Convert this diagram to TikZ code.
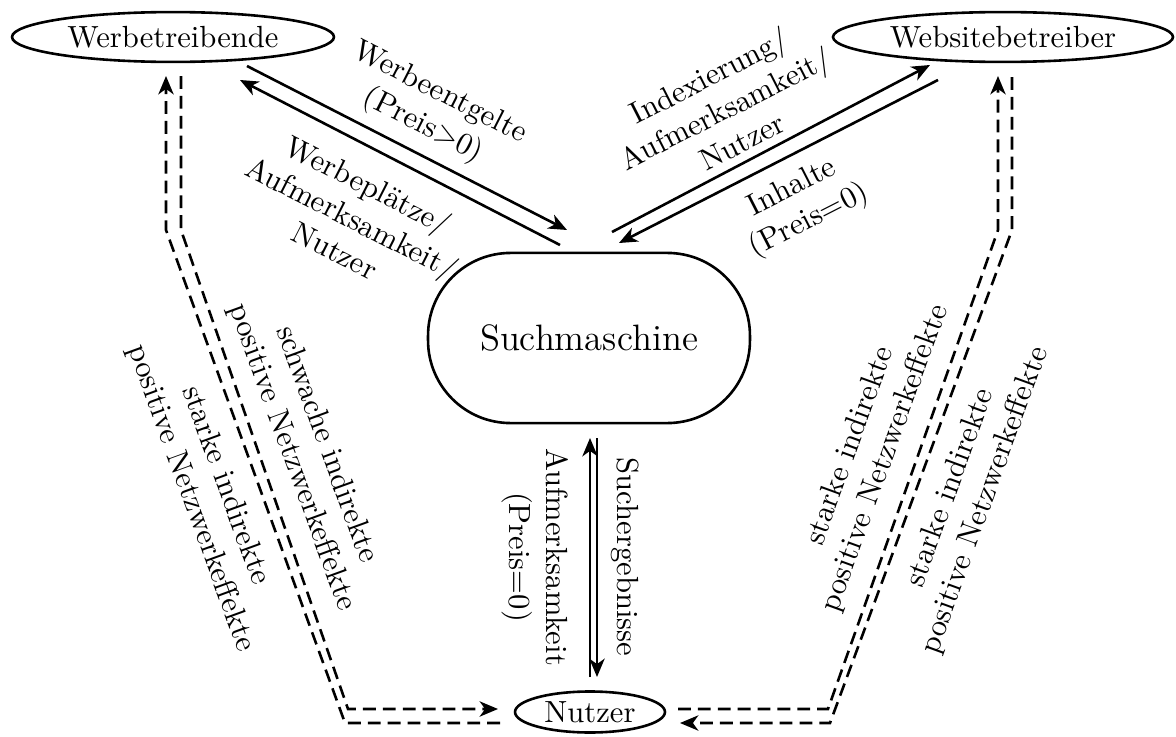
\documentclass[tikz,border=0pt]{standalone}
\usepackage{fontspec}
\usetikzlibrary{arrows.meta,shapes.geometric}

\begin{document}
\begin{tikzpicture}[x=0.3268pt,y=-0.3268pt,
  party/.style={draw, ellipse, line width=0.85pt, inner sep=0pt},
  engine/.style={draw, rectangle, rounded corners=27pt, line width=0.85pt,
    minimum width=105.2pt, minimum height=55.6pt, font=\large},
  flow/.style={line width=0.85pt, -{Stealth[length=6pt,width=5pt,inset=1.8pt]}},
  effect/.style={line width=0.85pt, dash pattern=on 4.2pt off 2.3pt},
  effectarrow/.style={effect, -{Stealth[length=6pt,width=5pt,inset=1.8pt]}},
  lbl/.style={align=center, inner sep=0pt}
]
\useasboundingbox (0,0) rectangle (1176,737);

% market sides and the platform
\node[party, minimum width=105.2pt, minimum height=16.3pt] (wb) at (173,37) {Werbetreibende};
\node[party, minimum width=111.1pt, minimum height=16.3pt] (ws) at (1003,37) {Websitebetreiber};
\node[engine] (sm) at (589,338) {Suchmaschine};
\node[party, minimum width=49pt, minimum height=13.4pt] (nu) at (590,712) {Nutzer};

% exchange with the advertisers
\draw[flow] ([shift={(74,29)}]wb.center) -- ([shift={(-22,-108)}]sm.center);
\draw[flow] ([shift={(-29,-93)}]sm.center) -- ([shift={(67,43)}]wb.center);

% exchange with the website operators
\draw[flow] ([shift={(23,-106)}]sm.center) -- ([shift={(-73,28)}]ws.center);
\draw[flow] ([shift={(-65,43)}]ws.center) -- ([shift={(30,-95)}]sm.center);

% exchange with the users
\draw[flow] ([shift={(0,-35)}]nu.center) -- ([shift={(1,100)}]sm.center);
\draw[flow] ([shift={(8,100)}]sm.center) -- ([shift={(7,-35)}]nu.center);

% bends of the network-effect paths
\coordinate (lo1) at (345,723);
\coordinate (lo2) at (166,230);
\coordinate (li1) at (181,230);
\coordinate (li2) at (348,709);
\coordinate (ri1) at (828,709);
\coordinate (ri2) at (998,230);
\coordinate (ro1) at (1012,230);
\coordinate (ro2) at (830,723);

% indirect network effects, advertisers side
\draw[effectarrow] ([shift={(-90,11)}]nu.center) -- (lo1) -- (lo2) -- ([shift={(-7,39)}]wb.center);
\draw[effectarrow] ([shift={(8,39)}]wb.center) -- (li1) -- (li2) -- ([shift={(-92,-3)}]nu.center);

% indirect network effects, website side
\draw[effectarrow] ([shift={(88,-3)}]nu.center) -- (ri1) -- (ri2) -- ([shift={(-5,39)}]ws.center);
\draw[effectarrow] ([shift={(9,40)}]ws.center) -- (ro1) -- (ro2) -- ([shift={(90,11)}]nu.center);

% labels
\node[lbl, rotate=-27] (tA) at (431,110) {Werbeentgelte\\(Preis>0)};
\node[lbl, rotate=-27] (tB) at (352,217) {Werbeplätze/\\Aufmerksamkeit/\\Nutzer};
\node[lbl, rotate=27] (tC) at (725,108) {Indexierung/\\Aufmerksamkeit/\\Nutzer};
\node[lbl, rotate=27] (tD) at (801,205) {Inhalte\\(Preis=0)};
\node[lbl, rotate=-90] (tE) at (625,557) {Suchergebnisse};
\node[lbl, rotate=-90] (tF) at (535,557) {Aufmerksamkeit\\(Preis=0)};
\node[lbl, rotate=-70] (tG) at (309,451) {schwache indirekte\\positive Netzwerkeffekte};
\node[lbl, rotate=-70] (tH) at (208,492) {starke indirekte\\positive Netzwerkeffekte};
\node[lbl, rotate=70] (tI) at (868,452) {starke indirekte\\positive Netzwerkeffekte};
\node[lbl, rotate=70] (tJ) at (968,494) {starke indirekte\\positive Netzwerkeffekte};
\end{tikzpicture}
\end{document}
